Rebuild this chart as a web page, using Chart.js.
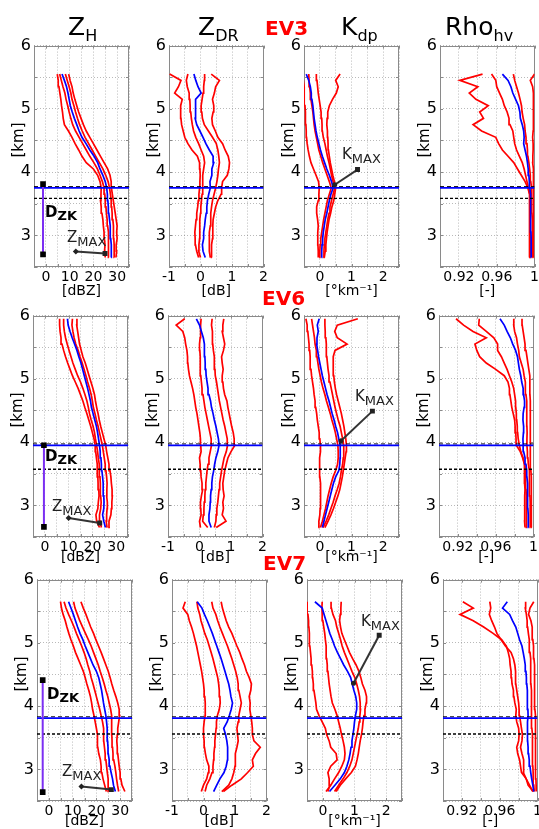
<!DOCTYPE html>
<html><head><meta charset="utf-8">
<script src="https://cdn.jsdelivr.net/npm/chart.js@4.4.1/dist/chart.umd.min.js"></script>
<style>
html,body{margin:0;padding:0;background:#fff;}
#fig{position:relative;width:539px;height:829px;overflow:hidden;background:#fff;font-family:'DejaVu Sans',sans-serif;}
.lbl{position:absolute;line-height:1;white-space:nowrap;color:#000;font-family:'DejaVu Sans',sans-serif;}
.sub{position:relative;}
</style></head><body><div id="fig"></div>
<script>
// ---------------- DATA ----------------
const EVENT_NAMES = ['EV3', 'EV6', 'EV7'];
const PANEL_TITLES = ['Z', 'Z', 'K', 'Rho'];
const PANEL_SUBS = ['H', 'DR', 'dp', 'hv'];
const UNITS = ['[dBZ]', '[dB]', '[°km⁻¹]', '[-]'];
const KM_TICKS = [3, 4, 5, 6];
const KM_LABELS = ['3', '4', '5', '6'];
const ZH_TICKS = [0, 10, 20, 30];
const ZH_LABELS = ['0', '10', '20', '30'];
const ZDR_TICKS = [-1, 0, 1, 2];
const ZDR_LABELS = ['-1', '0', '1', '2'];
const KDP_TICKS = [0, 1, 2];
const KDP_LABELS = ['0', '1', '2'];
const RHO_TICKS = [0.92, 0.96, 1];
const RHO_LABELS = ['0.92', '0.96', '1'];

const H_EV3 = [2.65,2.75,2.85,2.95,3.05,3.15,3.25,3.35,3.45,3.55,3.65,3.75,3.85,3.95,4.05,4.15,4.25,4.35,4.45,4.55,4.65,4.75,4.85,4.95,5.05,5.15,5.25,5.35,5.45,5.55];
const H_EV6 = [2.65,2.75,2.85,2.95,3.05,3.15,3.25,3.35,3.45,3.55,3.65,3.75,3.85,3.95,4.05,4.15,4.25,4.35,4.45,4.55,4.65,4.75,4.85,4.95,5.05,5.15,5.25,5.35,5.45,5.55,5.65,5.75,5.85,5.95];
const H_EV7 = [2.65,2.75,2.85,2.95,3.05,3.15,3.25,3.35,3.45,3.55,3.65,3.75,3.85,3.95,4.05,4.15,4.25,4.35,4.45,4.55,4.65,4.75,4.85,4.95,5.05,5.15,5.25,5.35,5.45,5.55,5.65];

// EV3
const EV3_ZH_LO  = [25,24.7,24.9,24.6,24.5,24.2,24,23.6,23.3,23,23.2,23.3,22.8,21.8,20,17,15.2,13.8,12.3,11,9.5,7.8,7.3,7,6.6,6.3,5.9,5.5,5.2,4.8];
const EV3_ZH_Q1  = [26.5,26.3,26.5,26.4,26.2,26,25.8,25.5,25.3,25,24.8,24.5,23.8,22.8,21.7,20.2,18.5,17,15.5,14,12.5,11.3,10.5,9.8,9.2,8.5,8,7.2,6.5,5.8];
const EV3_ZH_MED = [27.5,27.6,27.5,27.3,27.2,27,26.8,26.5,26.3,26.1,25.9,25.6,25,24,22.8,21.8,20.3,18.5,16.9,15.2,14,13,12,11.1,10.3,9.8,9.3,8.7,7.8,6.8];
const EV3_ZH_Q3  = [28.8,28.7,28.8,28.6,28.5,28.4,28.2,27.9,27.7,27.5,27.2,26.8,26.2,25.2,24,22.5,21,19.5,18,16.5,15.3,14.2,13.3,12.5,11.8,11,10.5,9.8,9,8.2];
const EV3_ZH_HI  = [29.5,29.8,29.6,30,29.8,30,29.6,29.2,28.8,28.4,28,27.6,27.5,27,26,24.5,23,21.5,20,18.5,17,15.8,14.8,13.8,13,12.2,11.5,11,10.2,9.6];

const EV3_ZDR_LO  = [-0.06,-0.12,-0.16,-0.17,-0.18,-0.16,-0.14,-0.12,-0.09,-0.07,-0.05,-0.03,-0.02,-0.01,-0.02,-0.03,-0.1,-0.27,-0.4,-0.5,-0.55,-0.6,-0.62,-0.64,-0.62,-0.58,-0.82,-0.7,-0.62,-0.98];
const EV3_ZDR_Q1  = [0,-0.06,-0.05,-0.03,-0.03,-0.02,-0.02,0,0.01,0.03,0.05,0.07,0.07,0.07,0.1,0.13,0.1,0.02,-0.06,-0.15,-0.22,-0.26,-0.29,-0.31,-0.33,-0.34,-0.36,-0.42,-0.45,-0.4];
const EV3_ZDR_MED = [0.15,0.08,0.06,0.1,0.1,0.13,0.15,0.18,0.2,0.22,0.26,0.31,0.3,0.36,0.36,0.42,0.4,0.28,0.17,0.08,-0.02,-0.12,-0.17,-0.15,-0.17,-0.15,0.02,-0.08,-0.15,-0.21];
const EV3_ZDR_Q3  = [0.31,0.28,0.27,0.28,0.29,0.31,0.32,0.33,0.35,0.38,0.43,0.48,0.52,0.55,0.57,0.6,0.58,0.55,0.5,0.38,0.25,0.12,0.06,0.04,0.02,0.05,0.08,0.1,0.12,0.13];
const EV3_ZDR_HI  = [0.36,0.34,0.36,0.38,0.39,0.39,0.4,0.44,0.48,0.55,0.65,0.67,0.7,0.85,0.9,0.92,0.88,0.78,0.7,0.55,0.47,0.38,0.36,0.4,0.42,0.38,0.44,0.48,0.6,0.34];

const EV3_KDP_LO  = [-0.05,-0.05,-0.06,-0.07,-0.06,-0.05,-0.07,-0.1,-0.1,-0.05,-0.03,-0.02,-0.04,-0.12,-0.2,-0.28,-0.33,-0.37,-0.4,-0.42,-0.43,-0.44,-0.45,-0.46,-0.47,-0.48,-0.5,-0.5,-0.52,-0.53];
const EV3_KDP_Q1  = [-0.02,0,0.01,0.03,0.06,0.09,0.12,0.16,0.2,0.24,0.3,0.36,0.3,0.23,0.16,0.09,0.03,-0.03,-0.07,-0.11,-0.15,-0.18,-0.2,-0.22,-0.25,-0.28,-0.3,-0.32,-0.34,-0.35];
const EV3_KDP_MED = [0.05,0.06,0.07,0.09,0.11,0.14,0.17,0.22,0.26,0.3,0.35,0.42,0.37,0.3,0.22,0.15,0.08,0.02,-0.03,-0.08,-0.12,-0.15,-0.18,-0.2,-0.22,-0.25,-0.27,-0.3,-0.35,-0.43];
const EV3_KDP_Q3  = [0.11,0.13,0.14,0.16,0.19,0.22,0.25,0.29,0.32,0.37,0.42,0.47,0.42,0.37,0.33,0.29,0.24,0.2,0.16,0.11,0.08,0.07,0.06,0.04,0.01,-0.02,-0.05,-0.07,-0.09,-0.11];
const EV3_KDP_HI  = [0.14,0.17,0.19,0.21,0.23,0.26,0.29,0.34,0.38,0.44,0.47,0.5,0.46,0.41,0.37,0.33,0.3,0.27,0.26,0.25,0.24,0.22,0.23,0.25,0.3,0.4,0.52,0.58,0.5,0.64];

const EV3_RHO_LO  = [0.9945,0.9945,0.9942,0.9945,0.9948,0.995,0.9948,0.9945,0.9948,0.995,0.9945,0.993,0.99,0.986,0.982,0.978,0.972,0.966,0.962,0.959,0.944,0.935,0.946,0.942,0.951,0.938,0.931,0.94,0.921,0.945];
const EV3_RHO_Q1  = [0.9955,0.9955,0.9953,0.9955,0.9955,0.9955,0.9953,0.9955,0.9955,0.9955,0.995,0.9935,0.992,0.9905,0.989,0.987,0.984,0.981,0.979,0.978,0.977,0.974,0.973,0.971,0.968,0.966,0.963,0.96,0.959,0.9545];
const EV3_RHO_MED = [0.9965,0.9965,0.9965,0.9963,0.9962,0.9962,0.996,0.996,0.9958,0.9956,0.9953,0.995,0.9945,0.994,0.9933,0.9925,0.9915,0.99,0.9885,0.989,0.9885,0.987,0.985,0.9845,0.983,0.98,0.977,0.975,0.972,0.966];
const EV3_RHO_Q3  = [0.998,0.998,0.998,0.9978,0.9978,0.9975,0.9975,0.9972,0.997,0.997,0.9968,0.9965,0.996,0.9955,0.9948,0.994,0.993,0.9925,0.992,0.991,0.99,0.9895,0.988,0.9868,0.9862,0.9847,0.983,0.981,0.979,0.9776];
const EV3_RHO_HI  = [0.9988,0.999,0.9988,0.999,0.9988,0.9988,0.999,0.9988,0.9985,0.9988,0.999,0.999,0.9988,0.9985,0.9985,0.998,0.9982,0.9985,0.9985,0.998,0.9985,0.9985,0.999,0.9988,0.999,0.9985,0.999,0.998,0.9955,1.0];

// EV6
const EV6_ZH_LO  = [23,21.8,21.5,22.3,22.5,22.8,22.7,22.4,22.3,22.1,22,21.7,21.4,21.2,20.7,20,19.3,18.5,17.7,16.8,16,15,14,12.8,11.6,10.6,9.6,8.7,7.9,7.2,6.8,6.4,6.2,6.2];
const EV6_ZH_Q1  = [23.8,23.2,23,23.5,23.7,23.5,23.4,23.3,23.2,23,22.8,22.5,22.2,21.8,21.3,20.9,20.3,19.5,18.8,18.3,17.7,16.9,16,15,13.8,12.8,11.8,11,10.2,9.4,8.7,8.2,7.9,7.9];
const EV6_ZH_MED = [25.5,24.8,24.3,24.8,24.9,24.8,24.6,24.5,24.3,24,23.8,23.6,23.3,23,22.6,22.2,21.7,21,20.3,19.6,19.2,18.6,18,17.3,16.6,15.9,15.2,14.3,13.5,12.5,11.5,10.6,9.8,9.5];
const EV6_ZH_Q3  = [26.2,25.8,26,26.2,26.3,26,26.1,26.2,26,25.7,25.4,25,24.6,24.2,23.6,23,22.4,21.7,21.1,20.4,20,19.5,18.8,18,17.3,16.5,15.7,14.8,14,13,12.3,11.8,11.4,11.6];
const EV6_ZH_HI  = [27.4,27,27.8,28,28.2,28.4,28.3,28,27.8,27.4,27,26.5,26,25.6,24.9,24.2,23.5,22.9,22.4,21.8,21.3,20.9,20.2,19.4,18.6,17.8,17,16,15.3,14.6,14.2,13.8,13.4,13.5];

const EV6_ZDR_LO  = [0.03,0,0.05,0.04,0.03,0.06,0.1,0.08,0.05,0.04,0.02,0,0.05,0.04,0.03,0.01,-0.02,-0.05,-0.08,-0.12,-0.15,-0.18,-0.22,-0.27,-0.32,-0.35,-0.37,-0.38,-0.4,-0.44,-0.47,-0.53,-0.74,-0.47];
const EV6_ZDR_Q1  = [0.26,0.1,0.12,0.14,0.15,0.17,0.18,0.2,0.22,0.24,0.27,0.3,0.34,0.38,0.37,0.33,0.29,0.25,0.21,0.17,0.14,0.11,0.08,0.06,0.04,0.03,0.02,0.02,0.01,0,0.02,0.03,0.04,0.05];
const EV6_ZDR_MED = [0.37,0.3,0.3,0.33,0.34,0.35,0.37,0.39,0.41,0.45,0.48,0.52,0.58,0.62,0.6,0.56,0.52,0.47,0.43,0.38,0.35,0.3,0.27,0.24,0.21,0.2,0.18,0.17,0.16,0.15,0.12,0.06,0,-0.1];
const EV6_ZDR_Q3  = [0.47,0.52,0.53,0.55,0.58,0.6,0.62,0.64,0.67,0.7,0.74,0.78,0.85,0.89,0.88,0.84,0.8,0.75,0.71,0.67,0.63,0.6,0.57,0.54,0.5,0.49,0.48,0.46,0.44,0.42,0.42,0.4,0.38,0.4];
const EV6_ZDR_HI  = [0.53,0.84,0.72,0.76,0.74,0.78,0.75,0.74,0.77,0.8,0.85,0.9,1,1.12,1.1,1.07,1.02,0.98,0.94,0.9,0.87,0.8,0.76,0.74,0.72,0.75,0.72,0.7,0.76,0.8,0.76,0.72,0.74,0.77];

const EV6_KDP_LO  = [-0.05,-0.03,0,0.01,0.02,0.02,0.03,0.02,0,0,-0.02,0,0.02,0.02,0,-0.02,-0.05,-0.08,-0.1,-0.13,-0.15,-0.18,-0.2,-0.23,-0.26,-0.28,-0.3,-0.31,-0.32,-0.34,-0.36,-0.38,-0.4,-0.44];
const EV6_KDP_Q1  = [0.02,0.08,0.13,0.18,0.22,0.26,0.31,0.36,0.42,0.5,0.56,0.58,0.58,0.57,0.53,0.49,0.44,0.38,0.33,0.27,0.21,0.16,0.1,0.05,0.01,-0.03,-0.06,-0.09,-0.11,-0.15,-0.17,-0.2,-0.23,-0.26];
const EV6_KDP_MED = [0.08,0.13,0.18,0.23,0.28,0.33,0.38,0.43,0.5,0.6,0.63,0.64,0.65,0.64,0.6,0.56,0.5,0.45,0.39,0.34,0.29,0.23,0.18,0.13,0.08,0.04,0,-0.04,-0.07,-0.1,-0.09,-0.05,-0.08,-0.02];
const EV6_KDP_Q3  = [0.1,0.2,0.28,0.35,0.42,0.48,0.55,0.61,0.65,0.68,0.72,0.74,0.76,0.75,0.72,0.68,0.64,0.58,0.53,0.48,0.44,0.4,0.36,0.32,0.29,0.26,0.24,0.22,0.21,0.2,0.19,0.17,0.16,0.16];
const EV6_KDP_HI  = [0.16,0.26,0.35,0.43,0.5,0.57,0.63,0.67,0.71,0.74,0.77,0.8,0.83,0.84,0.82,0.79,0.76,0.72,0.68,0.63,0.58,0.53,0.49,0.46,0.44,0.43,0.42,0.42,0.48,0.86,0.55,0.47,0.55,1.2];

const EV6_RHO_LO  = [0.991,0.9905,0.9908,0.9905,0.9908,0.9905,0.991,0.9905,0.9905,0.9906,0.99,0.9885,0.986,0.9818,0.9815,0.9812,0.9805,0.98,0.9785,0.977,0.976,0.975,0.9745,0.973,0.969,0.96,0.95,0.943,0.94,0.938,0.95,0.936,0.926,0.918];
const EV6_RHO_Q1  = [0.993,0.9928,0.9925,0.9923,0.9922,0.9922,0.992,0.9918,0.9915,0.9913,0.9905,0.989,0.9865,0.985,0.9838,0.9832,0.9828,0.9822,0.9818,0.9812,0.981,0.98,0.979,0.977,0.9745,0.972,0.969,0.966,0.962,0.962,0.958,0.95,0.942,0.9426];
const EV6_RHO_MED = [0.9948,0.9945,0.9943,0.994,0.994,0.9938,0.9936,0.9934,0.993,0.9928,0.992,0.991,0.9895,0.989,0.9888,0.9893,0.9895,0.9888,0.989,0.99,0.9905,0.9895,0.989,0.9875,0.9865,0.985,0.984,0.983,0.981,0.978,0.9755,0.972,0.969,0.9645];
const EV6_RHO_Q3  = [0.9965,0.9965,0.9965,0.9965,0.9963,0.9962,0.996,0.9958,0.9955,0.9952,0.9945,0.994,0.9935,0.993,0.993,0.9932,0.993,0.993,0.993,0.9928,0.9925,0.992,0.9915,0.9912,0.99,0.989,0.987,0.985,0.9843,0.983,0.982,0.98,0.979,0.9791];
const EV6_RHO_HI  = [0.9982,0.998,0.9978,0.9978,0.9976,0.9975,0.9976,0.9975,0.9975,0.9972,0.997,0.9968,0.9965,0.9965,0.9965,0.9965,0.9965,0.9965,0.9966,0.9965,0.9965,0.9962,0.996,0.9962,0.996,0.995,0.994,0.993,0.992,0.991,0.99,0.989,0.988,0.9878];

// EV7
const EV7_ZH_LO  = [24.2,23.5,22.8,22.3,22,21.7,21,20.6,20.5,20.4,20,19.5,19,18.4,18,17.5,16.8,16,15.3,14.5,13.4,12.3,11.2,10.3,9.3,8.4,7.6,6.9,6,5.3,4.9];
const EV7_ZH_Q1  = [25.2,25,24.9,24.6,24.3,24,23.7,23.4,23.1,23.1,23,22.6,22,21.4,20.7,20,19.3,18.6,17.8,17.2,16.4,15.7,14.8,13.8,12.7,11.6,10.6,9.5,8.3,7.2,6.4];
const EV7_ZH_MED = [28,27.2,26.8,26.2,25.7,25.4,25,24.9,24.7,24.6,24.5,24.3,24,23.5,23,22.6,22.2,21.6,21,20,18.6,17.5,16.4,15.3,14.3,13.1,12.1,11.2,10.3,9.3,8.3];
const EV7_ZH_Q3  = [29.4,28.9,28.5,28.2,27.8,27.3,27,26.8,26.6,26.5,26.4,26.5,26.4,26,25.4,24.8,24,23.3,22.5,21.6,20.8,19.8,18.8,17.8,16.6,15.4,14.2,13,12,11,10.4];
const EV7_ZH_HI  = [32,30.8,30.3,30,29.6,29.3,29,28.8,28.6,28.8,29,29.4,29.8,29.6,29,28.2,27.3,26.5,25.8,25,24,23,22,20.9,19.8,18.8,17.6,16.6,15.6,14.5,13.5];

const EV7_ZDR_LO  = [-0.07,0,0.1,0.15,0.17,0.1,0.06,0.03,0.02,0,0,0.02,0.05,0.06,0.05,0.04,0.02,0,-0.03,-0.06,-0.1,-0.14,-0.18,-0.22,-0.27,-0.32,-0.38,-0.45,-0.5,-0.65,-0.58];
const EV7_ZDR_Q1  = [0.05,0.1,0.2,0.27,0.3,0.32,0.33,0.35,0.36,0.38,0.4,0.41,0.44,0.5,0.53,0.52,0.5,0.48,0.45,0.4,0.35,0.3,0.24,0.18,0.12,0.04,-0.02,-0.08,-0.12,-0.18,-0.21];
const EV7_ZDR_MED = [0.32,0.42,0.52,0.65,0.72,0.76,0.77,0.76,0.74,0.7,0.64,0.75,0.82,0.88,0.92,0.87,0.84,0.8,0.74,0.68,0.62,0.56,0.49,0.42,0.35,0.28,0.2,0.12,0.03,-0.05,-0.2];
const EV7_ZDR_Q3  = [0.58,0.8,0.9,0.96,1,1,1.02,1.06,1.1,1.08,1.06,1.1,1.12,1.16,1.2,1.16,1.12,1.1,1.07,1.02,0.96,0.9,0.83,0.76,0.68,0.6,0.52,0.45,0.39,0.3,0.26];
const EV7_ZDR_HI  = [0.63,0.9,1.2,1.4,1.58,1.55,1.65,1.8,1.6,1.55,1.55,1.53,1.5,1.47,1.48,1.45,1.5,1.52,1.45,1.36,1.3,1.22,1.15,1.06,0.98,0.9,0.8,0.72,0.66,0.6,0.56];

const EV7_KDP_LO  = [0.16,0.22,0.2,0.16,0.25,0.45,0.42,0.25,0.2,0.12,0.08,-0.02,-0.12,-0.2,-0.22,-0.25,-0.28,-0.3,-0.32,-0.33,-0.35,-0.37,-0.39,-0.41,-0.42,-0.43,-0.44,-0.45,-0.47,-0.49,-0.5];
const EV7_KDP_Q1  = [0.1,0.25,0.37,0.5,0.6,0.68,0.7,0.68,0.64,0.59,0.55,0.5,0.45,0.38,0.3,0.26,0.23,0.2,0.18,0.16,0.14,0.12,0.11,0.1,0.08,0.06,0.03,0,-0.02,-0.03,-0.02];
const EV7_KDP_MED = [0.21,0.38,0.55,0.68,0.76,0.82,0.86,0.89,0.92,0.95,0.98,1,1.03,1.07,1.07,1.04,0.98,0.93,0.88,0.78,0.66,0.56,0.46,0.37,0.3,0.22,0.16,0.1,0.04,-0.02,-0.25];
const EV7_KDP_Q3  = [0.37,0.5,0.64,0.76,0.85,0.92,0.96,1,1.04,1.08,1.12,1.15,1.17,1.19,1.18,1.16,1.12,1.07,1.01,0.92,0.84,0.76,0.68,0.61,0.56,0.5,0.44,0.4,0.32,0.27,0.26];
const EV7_KDP_HI  = [0.42,0.55,0.72,0.9,1.03,1.08,1.12,1.15,1.18,1.22,1.25,1.27,1.3,1.33,1.37,1.38,1.33,1.25,1.2,1.14,1.05,0.94,0.84,0.76,0.68,0.6,0.56,0.53,0.55,0.57,0.58];

const EV7_RHO_LO  = [0.995,0.9915,0.988,0.983,0.982,0.981,0.979,0.978,0.98,0.9805,0.98,0.978,0.977,0.9775,0.976,0.975,0.9745,0.973,0.9725,0.972,0.971,0.9705,0.969,0.967,0.962,0.953,0.943,0.932,0.918,0.932,0.921];
const EV7_RHO_Q1  = [0.9954,0.99,0.988,0.985,0.9856,0.985,0.9835,0.982,0.9835,0.984,0.983,0.982,0.981,0.9805,0.98,0.979,0.978,0.977,0.977,0.9765,0.976,0.9745,0.972,0.966,0.9615,0.957,0.9545,0.9515,0.949,0.9505,0.9495];
const EV7_RHO_MED = [0.996,0.995,0.9938,0.9928,0.992,0.9912,0.9905,0.99,0.9895,0.9893,0.989,0.9898,0.99,0.9898,0.9895,0.9892,0.989,0.9886,0.9882,0.9877,0.987,0.986,0.9848,0.9835,0.981,0.979,0.977,0.9735,0.9705,0.963,0.968];
const EV7_RHO_Q3  = [0.9965,0.996,0.9955,0.9952,0.995,0.995,0.9948,0.9945,0.9945,0.9943,0.994,0.994,0.9938,0.9937,0.9935,0.9933,0.9932,0.993,0.993,0.9928,0.9927,0.9925,0.992,0.9915,0.991,0.9903,0.9895,0.989,0.9882,0.987,0.9874];
const EV7_RHO_HI  = [0.9985,0.9985,0.9983,0.9982,0.998,0.998,0.9978,0.998,0.9978,0.998,0.9977,0.9975,0.9975,0.9972,0.9972,0.997,0.997,0.9968,0.9968,0.9966,0.9965,0.9962,0.996,0.9955,0.995,0.9945,0.9942,0.993,0.9905,0.992,0.996];

// reference levels (km) per event
const LEVEL_TOP = [3.75, 3.95, 3.81];
const LEVEL_BOT = [3.585, 3.57, 3.56];
// D_ZK segment (dBZ, km)
const DZK_X = [-1.2, -0.4, -2.6];
const DZK_TOP = [3.81, 3.95, 4.41];
const DZK_BOT = [2.70, 2.66, 2.64];
// Z_MAX pointer
const ZMAX_FROM_X = [12.6, 10.0, 13.7];
const ZMAX_FROM_Y = [2.745, 2.80, 2.73];
const ZMAX_TO_X = [24.9, 23.1, 26.3];
const ZMAX_TO_Y = [2.714, 2.72, 2.68];
// K_MAX pointer
const KMAX_FROM_X = [1.19, 1.66, 1.78];
const KMAX_FROM_Y = [4.04, 4.49, 5.12];
const KMAX_TO_X = [0.47, 0.67, 0.97];
const KMAX_TO_Y = [3.80, 4.02, 4.36];

// ---------------- LAYOUT ----------------
const ROW_TOP = [43, 313, 577];
const COL_LEFT = [[34,169,304,440],[33,168,304,439],[37,172,307,443]];
const PLOT_W = 95, PLOT_H = 224, YAX_W = 30, PAD_T = 10, PAD_R = 6, XAX_H = 34;

const HEIGHTS = [H_EV3, H_EV6, H_EV7];
const PROFILES = [
  [[EV3_ZH_LO,EV3_ZH_Q1,EV3_ZH_MED,EV3_ZH_Q3,EV3_ZH_HI],[EV3_ZDR_LO,EV3_ZDR_Q1,EV3_ZDR_MED,EV3_ZDR_Q3,EV3_ZDR_HI],[EV3_KDP_LO,EV3_KDP_Q1,EV3_KDP_MED,EV3_KDP_Q3,EV3_KDP_HI],[EV3_RHO_LO,EV3_RHO_Q1,EV3_RHO_MED,EV3_RHO_Q3,EV3_RHO_HI]],
  [[EV6_ZH_LO,EV6_ZH_Q1,EV6_ZH_MED,EV6_ZH_Q3,EV6_ZH_HI],[EV6_ZDR_LO,EV6_ZDR_Q1,EV6_ZDR_MED,EV6_ZDR_Q3,EV6_ZDR_HI],[EV6_KDP_LO,EV6_KDP_Q1,EV6_KDP_MED,EV6_KDP_Q3,EV6_KDP_HI],[EV6_RHO_LO,EV6_RHO_Q1,EV6_RHO_MED,EV6_RHO_Q3,EV6_RHO_HI]],
  [[EV7_ZH_LO,EV7_ZH_Q1,EV7_ZH_MED,EV7_ZH_Q3,EV7_ZH_HI],[EV7_ZDR_LO,EV7_ZDR_Q1,EV7_ZDR_MED,EV7_ZDR_Q3,EV7_ZDR_HI],[EV7_KDP_LO,EV7_KDP_Q1,EV7_KDP_MED,EV7_KDP_Q3,EV7_KDP_HI],[EV7_RHO_LO,EV7_RHO_Q1,EV7_RHO_MED,EV7_RHO_Q3,EV7_RHO_HI]]
];
const XAXES = [
  {min:-5, max:35, step:5, ticks:ZH_TICKS, labels:ZH_LABELS},
  {min:-1, max:2, step:0.5, ticks:ZDR_TICKS, labels:ZDR_LABELS},
  {min:-0.5, max:2.5, step:0.5, ticks:KDP_TICKS, labels:KDP_LABELS},
  {min:0.9, max:1.0, step:0.02, ticks:RHO_TICKS, labels:RHO_LABELS}
];

Chart.defaults.font.family = "'DejaVu Sans', sans-serif";
Chart.defaults.color = '#000';

const boxPlugin = {
  id: 'box',
  beforeDatasetsDraw(chart) {
    const {ctx, chartArea: a, scales: {x, y}} = chart;
    ctx.save();
    ctx.strokeStyle = '#8a8a8a';
    ctx.lineWidth = 1;
    ctx.setLineDash([]);
    ctx.strokeRect(Math.round(a.left) + 0.5, Math.round(a.top) + 0.5, Math.round(a.width) - 1, Math.round(a.height) - 1);
    ctx.beginPath();
    x.ticks.forEach(t => {
      const px = Math.round(x.getPixelForValue(t.value)) + 0.5;
      ctx.moveTo(px, a.bottom); ctx.lineTo(px, a.bottom - 3);
      ctx.moveTo(px, a.top); ctx.lineTo(px, a.top + 3);
    });
    y.ticks.forEach(t => {
      const py = Math.round(y.getPixelForValue(t.value)) + 0.5;
      ctx.moveTo(a.left, py); ctx.lineTo(a.left + 3, py);
      ctx.moveTo(a.right, py); ctx.lineTo(a.right - 3, py);
    });
    ctx.stroke();
    ctx.restore();
  }
};

const fig = document.getElementById('fig');

function gridValues(min, max, step) {
  const out = [];
  const n = Math.round((max - min) / step);
  for (let i = 0; i <= n; i++) out.push(Math.round((min + i * step) * 1e6) / 1e6);
  return out;
}

function line(data, color, width, order, extra) {
  return Object.assign({data, borderColor: color, backgroundColor: color, borderWidth: width, pointRadius: 0,
    showLine: true, fill: false, tension: 0, order}, extra || {});
}

function buildPanel(r, c) {
  const left = COL_LEFT[r][c], top = ROW_TOP[r];
  const W = YAX_W + PLOT_W + PAD_R, Ht = PAD_T + PLOT_H + XAX_H;
  const cv = document.createElement('canvas');
  cv.width = W; cv.height = Ht;
  cv.style.cssText = `position:absolute;left:${left - YAX_W}px;top:${top - PAD_T}px;width:${W}px;height:${Ht}px;`;
  fig.appendChild(cv);
  const H = HEIGHTS[r];
  const ax = XAXES[c];
  const prof = PROFILES[r][c];
  const ds = [];
  const cols = ['#ff0000', '#ff0000', '#0000ff', '#ff0000', '#ff0000'];
  prof.forEach((arr, i) => {
    ds.push(line(arr.map((v, k) => ({x: v, y: H[k]})), cols[i], 1.7, i === 2 ? 4 : 5));
  });
  // black dashed companion just above the blue level, blue solid on top
  ds.push(line([{x: ax.min, y: LEVEL_TOP[r] + 0.022}, {x: ax.max, y: LEVEL_TOP[r] + 0.022}], '#000000', 0.9, 3, {borderDash: [4, 3]}));
  ds.push(line([{x: ax.min, y: LEVEL_TOP[r]}, {x: ax.max, y: LEVEL_TOP[r]}], '#0000ff', 1.8, 2));
  ds.push(line([{x: ax.min, y: LEVEL_BOT[r]}, {x: ax.max, y: LEVEL_BOT[r]}], '#000000', 1.4, 1, {borderDash: [3, 2]}));
  if (c === 0) {
    ds.push(line([{x: DZK_X[r], y: DZK_TOP[r]}, {x: DZK_X[r], y: DZK_BOT[r]}], '#7b2ff2', 2, 0,
      {pointRadius: 4, pointStyle: 'rect', pointBackgroundColor: '#000', pointBorderColor: '#000', pointBorderWidth: 0}));
    ds.push(line([{x: ZMAX_FROM_X[r], y: ZMAX_FROM_Y[r]}, {x: ZMAX_TO_X[r], y: ZMAX_TO_Y[r]}], '#333333', 2, 0,
      {pointRadius: [3, 3.5], pointStyle: ['rectRot', 'rect'], pointBackgroundColor: '#222', pointBorderColor: '#222', pointBorderWidth: 0}));
  }
  if (c === 2) {
    ds.push(line([{x: KMAX_FROM_X[r], y: KMAX_FROM_Y[r]}, {x: KMAX_TO_X[r], y: KMAX_TO_Y[r]}], '#333333', 2, 0,
      {pointRadius: [3.5, 2.5], pointStyle: ['rect', 'circle'], pointBackgroundColor: '#222', pointBorderColor: '#222', pointBorderWidth: 0}));
  }
  const gridOpts = {color: 'rgba(80,80,80,0.5)', lineWidth: 0.8, drawTicks: false};
  new Chart(cv, {
    type: 'scatter',
    data: {datasets: ds},
    plugins: [boxPlugin],
    options: {
      responsive: false, animation: false, devicePixelRatio: 1, events: [],
      layout: {padding: {top: PAD_T, right: PAD_R, left: 0, bottom: 0}},
      plugins: {legend: {display: false}, tooltip: {enabled: false}},
      scales: {
        x: {
          type: 'linear', position: 'bottom', min: ax.min, max: ax.max,
          afterFit: s => { s.height = XAX_H; },
          afterBuildTicks: s => { s.ticks = gridValues(ax.min, ax.max, ax.step).map(v => ({value: v})); },
          ticks: {autoSkip: false, maxRotation: 0, padding: 2, color: '#000', font: {size: 14},
            callback: v => { const i = ax.ticks.findIndex(t => Math.abs(t - v) < 1e-6); return i < 0 ? '' : ax.labels[i]; }},
          grid: gridOpts,
          border: {display: false, dash: [1, 2]},
          title: {display: true, text: UNITS[c], color: '#000', font: {size: 14}, padding: {top: 0, bottom: r === 0 ? 1 : 5}}
        },
        y: {
          type: 'linear', position: 'left', min: 2.5, max: 6,
          afterFit: s => { s.width = YAX_W; },
          afterBuildTicks: s => { s.ticks = gridValues(2.5, 6, 0.5).map(v => ({value: v})); },
          ticks: {autoSkip: false, padding: 3, color: '#000', font: {size: 16},
            callback: v => { const i = KM_TICKS.findIndex(t => Math.abs(t - v) < 1e-6); return i < 0 ? '' : KM_LABELS[i]; }},
          grid: gridOpts,
          border: {display: false, dash: [1, 2]}
        }
      }
    }
  });
}

for (let r = 0; r < 3; r++) for (let c = 0; c < 4; c++) buildPanel(r, c);

// ---------------- TEXT ----------------
function addText(html, left, baseline, size, style) {
  const d = document.createElement('div');
  d.className = 'lbl';
  d.style.cssText = `left:${left}px;top:${(baseline - 0.846 * size).toFixed(1)}px;font-size:${size}px;${style || ''}`;
  d.innerHTML = html;
  fig.appendChild(d);
}
function sub(main, s, subSize, shift) {
  return `${main}<span class="sub" style="font-size:${subSize}px;top:${shift}px">${s}</span>`;
}
const TITLE_LEFT = [68, 198, 341, 445];
for (let c = 0; c < 4; c++) addText(sub(PANEL_TITLES[c], PANEL_SUBS[c], 16, 6), TITLE_LEFT[c], 35, 25);
const EV_LEFT = [265, 262, 263];
const EV_BASE = [35, 305, 570];
for (let r = 0; r < 3; r++) addText(EVENT_NAMES[r], EV_LEFT[r], EV_BASE[r], 20, 'font-weight:bold;color:#ff0000;');

// [km] labels
for (let r = 0; r < 3; r++) for (let c = 0; c < 4; c++) {
  const d = document.createElement('div');
  d.className = 'lbl';
  d.style.cssText = `left:${COL_LEFT[r][c] - 16.5}px;top:${ROW_TOP[r] + 97}px;font-size:15px;transform:translate(-50%,-50%) rotate(-90deg);`;
  d.textContent = '[km]';
  fig.appendChild(d);
}
// annotations
const DZK_TXT = [[45, 218], [45, 462], [47, 700]];
const ZMAX_TXT = [[67, 243], [52, 512], [62, 777]];
const KMAX_TXT = [[342, 160], [355, 402], [361, 627]];
for (let r = 0; r < 3; r++) {
  addText(sub('D', 'ZK', 13, 3), DZK_TXT[r][0], DZK_TXT[r][1], 15, 'font-weight:bold;');
  addText(sub('Z', 'MAX', 13, 4), ZMAX_TXT[r][0], ZMAX_TXT[r][1], 15, 'color:#222;');
  addText(sub('K', 'MAX', 13, 4), KMAX_TXT[r][0], KMAX_TXT[r][1], 15, 'color:#222;');
}
</script></body></html>
